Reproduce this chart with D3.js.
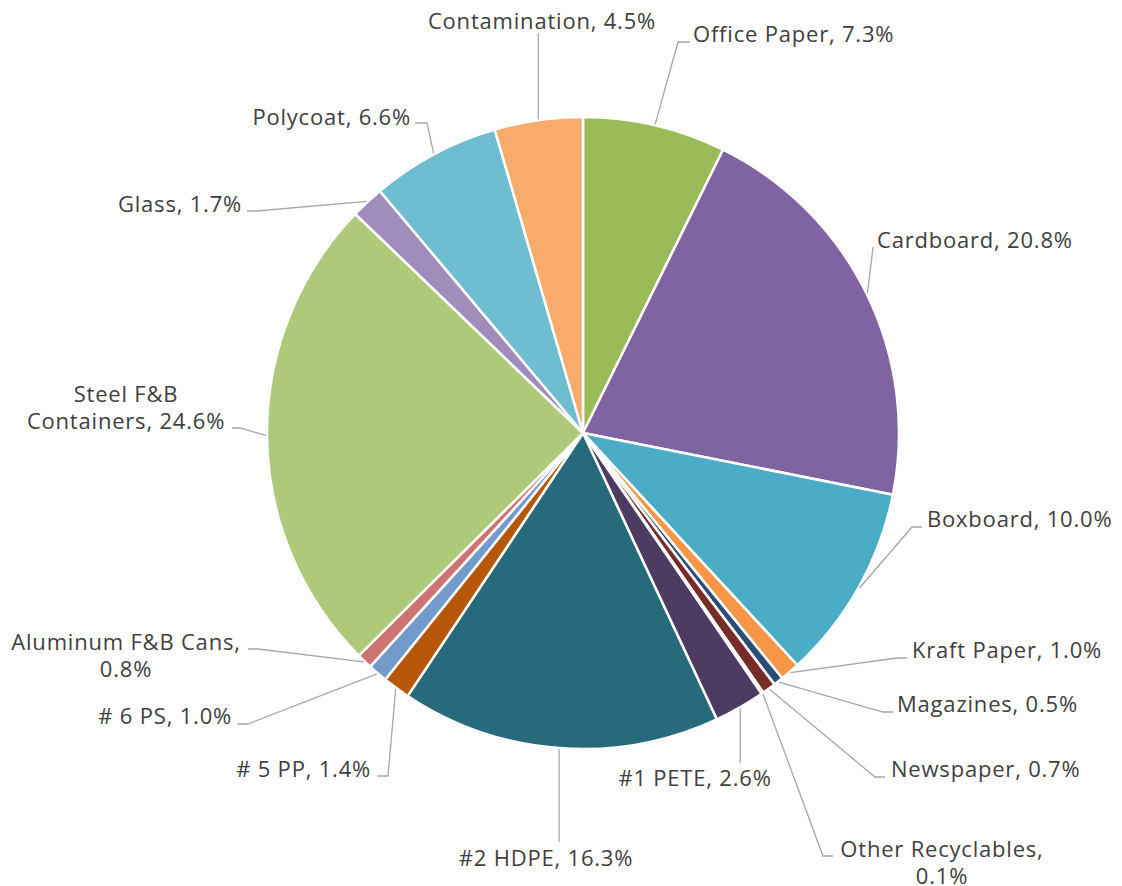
<!DOCTYPE html>
<html>
<head>
<meta charset="utf-8">
<script src="https://cdn.jsdelivr.net/npm/d3@7"></script>
<style>
  body { margin: 0; background: #fff; }
  text { font-family: "Open Sans", sans-serif; font-size: 22px; letter-spacing: 0.8px; fill: #404040; }
</style>
</head>
<body>
<div id="chart"></div>
<script>
// composition data, clockwise from 12 o'clock
var categories = ["Office Paper", "Cardboard", "Boxboard", "Kraft Paper", "Magazines", "Newspaper",
  "Other Recyclables", "#1 PETE", "#2 HDPE", "# 5 PP", "# 6 PS", "Aluminum F&B Cans",
  "Steel F&B Containers", "Glass", "Polycoat", "Contamination"];
var values = [7.3, 20.8, 10.0, 1.0, 0.5, 0.7, 0.1, 2.6, 16.3, 1.4, 1.0, 0.8, 24.6, 1.7, 6.6, 4.5];
var colors = ["#9bbb59", "#8064a2", "#4bacc6", "#f79646", "#2c4d75", "#772c2a", "#5f7530", "#4d3b62",
  "#276a7c", "#b65708", "#729aca", "#cd7371", "#afc97a", "#a18dbc", "#6fbdd1", "#f9ab6b"];
// how each label is broken into lines
var labelLines = [
  ["Office Paper, 7.3%"], ["Cardboard, 20.8%"], ["Boxboard, 10.0%"], ["Kraft Paper, 1.0%"],
  ["Magazines, 0.5%"], ["Newspaper, 0.7%"], ["Other Recyclables,", "0.1%"], ["#1 PETE, 2.6%"],
  ["#2 HDPE, 16.3%"], ["# 5 PP, 1.4%"], ["# 6 PS, 1.0%"], ["Aluminum F&B Cans,", "0.8%"],
  ["Steel F&B", "Containers, 24.6%"], ["Glass, 1.7%"], ["Polycoat, 6.6%"], ["Contamination, 4.5%"]
];

// label placement (layout only): text x, first baseline, anchor, leader end
var labelX = [693, 877, 927, 912, 897, 891, 942, 695, 546, 371, 232, 126, 126, 242, 411, 542];
var labelY = [42, 248, 527, 658, 712, 777, 857, 786, 866, 777, 724, 650, 402, 212, 125, 29];
var labelAnchor = ["start", "start", "start", "start", "start", "start", "middle", "middle",
  "middle", "end", "end", "middle", "middle", "end", "end", "middle"];
// side: 1 = right (elbow left of end), -1 = left, 0 = vertical leader
var leaderSide = [1, 1, 1, 1, 1, 1, 1, 0, 0, -1, -1, -1, -1, -1, -1, 0];
var leaderEnd = [[690, 42], [874, 248], [922, 527], [907, 658], [893, 712], [885, 777], [833, 856],
  [0, 763], [0, 842], [377, 776], [237, 724], [248, 649], [232, 428], [247, 211], [415, 123], [0, 33]];
var elbowLen = [12, 1, 10, 10, 10, 10, 10, 0, 0, 11, 11, 10, 8, 10, 12, 0];

var width = 1122, height = 886,
    cx = 583, cy = 433, radius = 316;

var svg = d3.select("#chart").append("svg")
    .attr("width", width)
    .attr("height", height);

var pie = d3.pie().sort(null).value(function(d) { return d; });
var arcs = pie(values);

var arc = d3.arc().innerRadius(0).outerRadius(radius);

var g = svg.append("g").attr("transform", "translate(" + cx + "," + cy + ")");

g.selectAll("path.slice")
    .data(arcs)
    .enter().append("path")
    .attr("class", "slice")
    .attr("d", arc)
    .attr("fill", function(d, i) { return colors[i]; })
    .attr("stroke", "#fff")
    .attr("stroke-width", 2.5)
    .attr("stroke-linejoin", "round");

// leader lines
var line = d3.line();
svg.append("g").selectAll("path")
    .data(arcs)
    .enter().append("path")
    .attr("fill", "none")
    .attr("stroke", "#a6a6a6")
    .attr("stroke-width", 1.3)
    .attr("d", function(d, i) {
      var a = (d.startAngle + d.endAngle) / 2;
      var sx = cx + (radius + 1) * Math.sin(a),
          sy = cy - (radius + 1) * Math.cos(a);
      var e = leaderEnd[i];
      if (leaderSide[i] === 0) return line([[sx, sy], [sx, e[1]]]);
      var ex = e[0] - leaderSide[i] * elbowLen[i];
      return line([[sx, sy], [ex, e[1]], e]);
    });

// labels
var labels = svg.append("g").selectAll("text")
    .data(labelLines)
    .enter().append("text")
    .attr("text-anchor", function(d, i) { return labelAnchor[i]; })
    .attr("x", function(d, i) { return labelX[i]; })
    .attr("y", function(d, i) { return labelY[i]; });

labels.each(function(d, i) {
  var t = d3.select(this);
  d.forEach(function(s, j) {
    t.append("tspan")
      .attr("x", labelX[i])
      .attr("dy", j === 0 ? 0 : 27)
      .text(s);
  });
});
</script>
</body>
</html>
